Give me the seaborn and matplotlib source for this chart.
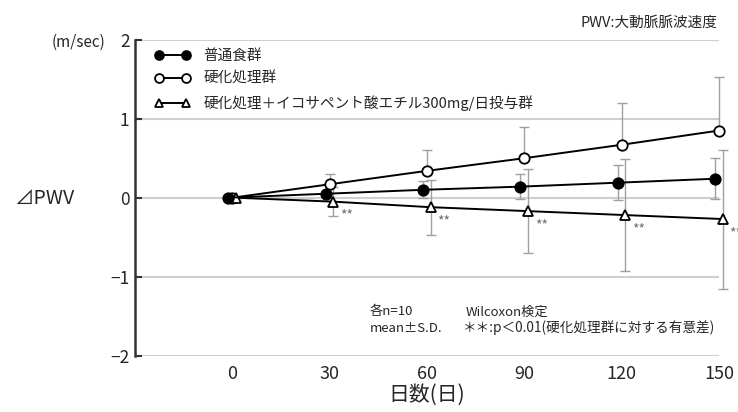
import numpy as np
import pandas as pd
import matplotlib
matplotlib.use("Agg")
import matplotlib.pyplot as plt
import seaborn as sns

# ---- data ----
days = [0, 30, 60, 90, 120, 150]
normal_mean = [0.0, 0.05, 0.10, 0.14, 0.19, 0.24]
normal_sd = [0.0, 0.04, 0.11, 0.16, 0.22, 0.26]
hard_mean = [0.0, 0.17, 0.34, 0.50, 0.67, 0.85]
hard_sd = [0.0, 0.13, 0.26, 0.40, 0.53, 0.68]
epa_mean = [0.0, -0.05, -0.12, -0.17, -0.22, -0.27]
epa_sd = [0.0, 0.18, 0.35, 0.53, 0.71, 0.88]
labels = ["普通食群", "硬化処理群", "硬化処理＋イコサペント酸エチル300mg/日投与群"]
y_ticks = [-2, -1, 0, 1, 2]
sig_mark = "**"

sns.set_theme(style="white")
FAM = ["Noto Sans CJK JP", "DejaVu Sans"]
plt.rcParams["font.family"] = FAM

fig = plt.figure(figsize=(7.38, 4.12), dpi=100)
ax = fig.add_axes([135 / 738, 1 - 355.7 / 412, (719 - 135) / 738, 316 / 412])

x = np.array(days, dtype=float)
dodge = {"normal": -1.2, "hard": 0.0, "epa": 1.1}
ebar_kw = dict(fmt="none", ecolor="#a0a0a0", elinewidth=1.0, capsize=3.5, capthick=1.0, clip_on=False)

# error bars (behind markers)
ax.errorbar(x + dodge["hard"], hard_mean, yerr=[np.zeros(len(days)), hard_sd], zorder=1, **ebar_kw)
ax.errorbar(x + dodge["normal"], normal_mean, yerr=normal_sd, zorder=1, **ebar_kw)
ax.errorbar(x + dodge["epa"], epa_mean, yerr=epa_sd, zorder=1, **ebar_kw)

line_kw = dict(color="black", linewidth=1.4, markersize=7.5, markeredgecolor="black",
               markeredgewidth=1.3, clip_on=False)
sns.lineplot(x=x + dodge["hard"], y=hard_mean, ax=ax, marker="o", markerfacecolor="white",
             label=labels[1], zorder=3, **line_kw)
sns.lineplot(x=x + dodge["epa"], y=epa_mean, ax=ax, marker="^", markerfacecolor="white",
             label=labels[2], zorder=4, **line_kw)
sns.lineplot(x=x + dodge["normal"], y=normal_mean, ax=ax, marker="o", markerfacecolor="black",
             label=labels[0], zorder=5, **line_kw)

# significance marks
for xi, yi in zip(x[1:] + dodge["epa"], epa_mean[1:]):
    ax.annotate(sig_mark, xy=(xi, yi), xytext=(5, -10), textcoords="offset points",
                ha="left", va="center", fontsize=10, color="#707070", family=FAM, annotation_clip=False)

ax.set_xlim(-30, 150)
ax.set_ylim(-2, 2)
ax.set_xticks(days)
ax.set_xticklabels([str(d) for d in days], fontsize=13, family=FAM)
ax.set_yticks(y_ticks)
ax.set_yticklabels(["−2", "−1", "0", "1", "2"], fontsize=12.5, family=FAM)
ax.tick_params(axis="x", length=0, pad=7)
ax.tick_params(axis="y", direction="in", length=5, width=1.5, color="#333333", pad=4, left=True)
ax.grid(axis="y", color="#cfcfcf", linewidth=1.5)
ax.grid(axis="x", visible=False)
for s in ["top", "right", "bottom"]:
    ax.spines[s].set_visible(False)
ax.spines["left"].set_color("#333333")
ax.spines["left"].set_linewidth(1.8)
ax.set_xlabel("日数(日)", fontsize=15, family=FAM, labelpad=0)
ax.set_ylabel("")

# legend
h, l = ax.get_legend_handles_labels()
hmap = dict(zip(l, h))
leg = ax.legend([hmap[t] for t in labels], labels, loc="upper left",
                bbox_to_anchor=(20 / 584, 1 - 9 / 316), frameon=False, numpoints=2,
                handlelength=2.4, handletextpad=0.9, labelspacing=0.62, borderpad=0,
                borderaxespad=0, markerscale=0.85, prop={"family": FAM, "size": 10.5})

# texts
fig.text(717 / 738, 1 - 23 / 412, "PWV:大動脈脈波速度", ha="right", va="center", fontsize=10.5, family=FAM)
fig.text(52 / 738, 1 - 42 / 412, "(m/sec)", ha="left", va="center", fontsize=11, family=FAM)
fig.text(14 / 738, 1 - 198 / 412, "⊿PWV", ha="left", va="center", fontsize=14, family=FAM)
fig.text(370 / 738, 1 - 312 / 412, "各n=10", ha="left", va="center", fontsize=9.5, family=FAM)
fig.text(370 / 738, 1 - 328 / 412, "mean±S.D.", ha="left", va="center", fontsize=9.5, family=FAM)
fig.text(466 / 738, 1 - 312 / 412, "Wilcoxon検定", ha="left", va="center", fontsize=9.5, family=FAM)
fig.text(463 / 738, 1 - 328 / 412, "＊＊:p＜0.01(硬化処理群に対する有意差)", ha="left", va="center",
         fontsize=9.8, family=FAM)

fig.savefig("out.png", dpi=100)
